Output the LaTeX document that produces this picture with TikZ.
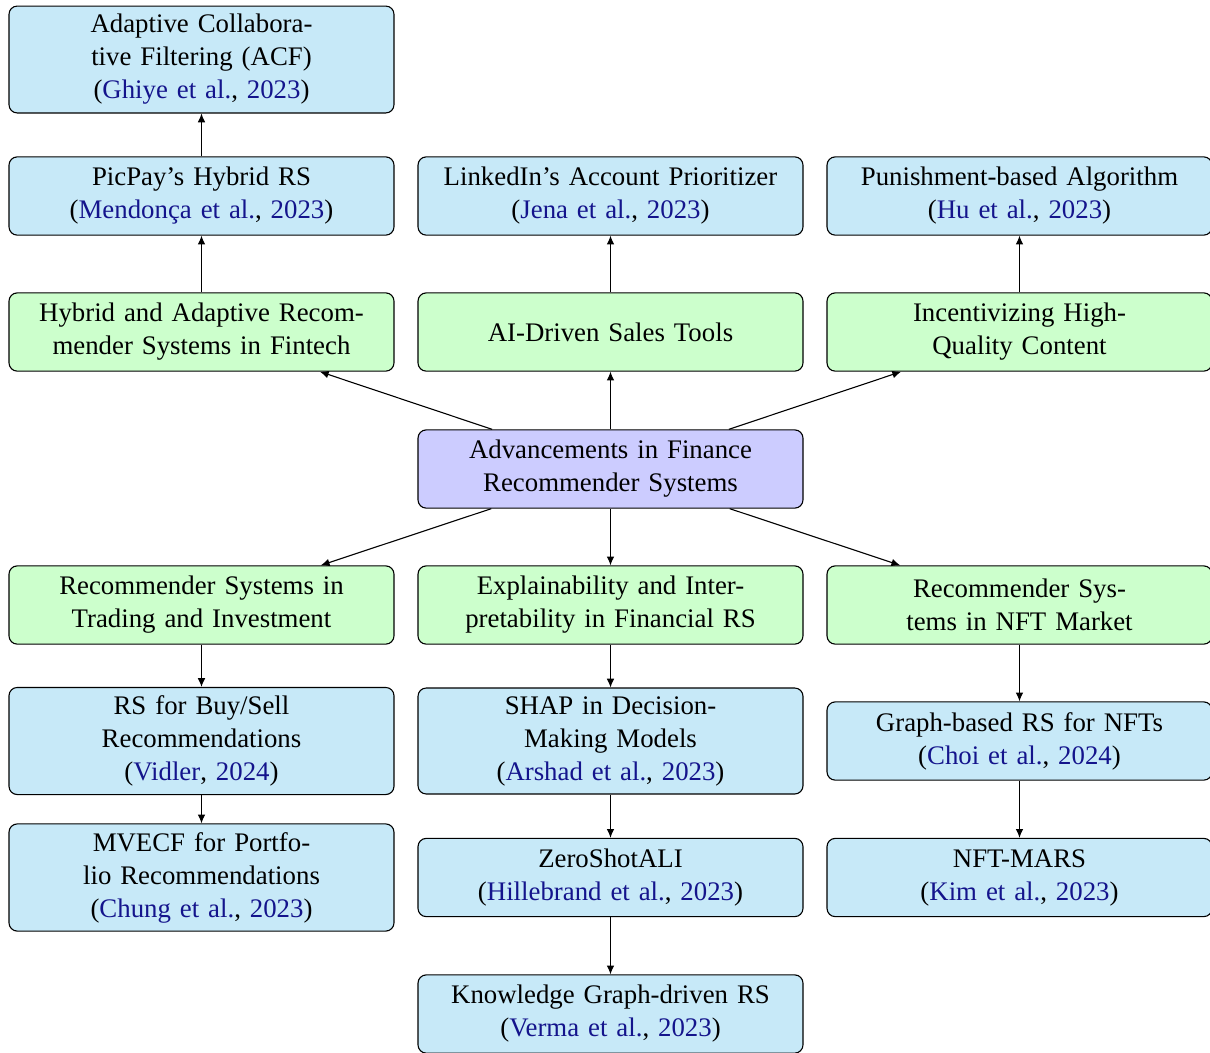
\documentclass[tikz,border=0pt]{standalone}
\usepackage{fontspec}
\setmainfont{Liberation Serif}
\usetikzlibrary{arrows.meta}
\definecolor{leafblue}{RGB}{199,233,248}
\definecolor{branchgreen}{RGB}{204,255,204}
\definecolor{rootviolet}{RGB}{204,204,255}
\definecolor{citeblue}{RGB}{20,20,140}
\newcommand{\refcite}[2]{(\textcolor{citeblue}{#1}, \textcolor{citeblue}{#2})}
\tikzset{
  box/.style={draw=black, rounded corners=3pt, align=center, text width=134pt,
    inner xsep=3pt, inner ysep=3pt, minimum height=1cm, font=\fontsize{9.75}{12}\selectfont},
  leaf/.style={box, fill=leafblue},
  branch/.style={box, fill=branchgreen},
  rootbox/.style={box, fill=rootviolet},
  link/.style={-{Latex[length=3.2pt,width=2.8pt]}, line width=0.4pt}
}
\begin{document}
\begin{tikzpicture}[x=0.36364pt, y=-0.36364pt]
\useasboundingbox (0,0) rectangle (1210,1052);

% root
\node[rootbox] (root) at (610.5,469) {Advancements in Finance\\Recommender Systems};

% upper branches
\node[branch] (hybrid) at (201.5,332) {Hybrid and Adaptive Recom-\\mender Systems in Fintech};
\node[branch] (sales) at (610.5,332) {AI-Driven Sales Tools};
\node[branch] (incent) at (1019.5,332) {Incentivizing High-\\Quality Content};

% upper leaves
\node[leaf] (picpay) at (201.5,196) {PicPay's Hybrid RS\\\refcite{Mendonça et al.}{2023}};
\node[leaf] (acf) at (201.5,59.5) {Adaptive Collabora-\\tive Filtering (ACF)\\\refcite{Ghiye et al.}{2023}};
\node[leaf] (linkedin) at (610.5,196) {LinkedIn's Account Prioritizer\\\refcite{Jena et al.}{2023}};
\node[leaf] (punish) at (1019.5,196) {Punishment-based Algorithm\\\refcite{Hu et al.}{2023}};

% lower branches
\node[branch] (trading) at (201.5,605) {Recommender Systems in\\Trading and Investment};
\node[branch] (explain) at (610.5,605) {Explainability and Inter-\\pretability in Financial RS};
\node[branch] (nft) at (1019.5,605) {Recommender Sys-\\tems in NFT Market};

% lower leaves
\node[leaf] (buysell) at (201.5,741) {RS for Buy/Sell\\Recommendations\\\refcite{Vidler}{2024}};
\node[leaf] (mvecf) at (201.5,877.5) {MVECF for Portfo-\\lio Recommendations\\\refcite{Chung et al.}{2023}};
\node[leaf] (shap) at (610.5,741) {SHAP in Decision-\\Making Models\\\refcite{Arshad et al.}{2023}};
\node[leaf] (zeroshot) at (610.5,877.5) {ZeroShotALI\\\refcite{Hillebrand et al.}{2023}};
\node[leaf] (kg) at (610.5,1014) {Knowledge Graph-driven RS\\\refcite{Verma et al.}{2023}};
\node[leaf] (graphnft) at (1019.5,741) {Graph-based RS for NFTs\\\refcite{Choi et al.}{2024}};
\node[leaf] (nftmars) at (1019.5,877.5) {NFT-MARS\\\refcite{Kim et al.}{2023}};

% connectors
\draw[link] (root) -- (hybrid);
\draw[link] (root) -- (sales);
\draw[link] (root) -- (incent);
\draw[link] (root) -- (trading);
\draw[link] (root) -- (explain);
\draw[link] (root) -- (nft);
\draw[link] (hybrid) -- (picpay);
\draw[link] (picpay) -- (acf);
\draw[link] (sales) -- (linkedin);
\draw[link] (incent) -- (punish);
\draw[link] (trading) -- (buysell);
\draw[link] (buysell) -- (mvecf);
\draw[link] (explain) -- (shap);
\draw[link] (shap) -- (zeroshot);
\draw[link] (zeroshot) -- (kg);
\draw[link] (nft) -- (graphnft);
\draw[link] (graphnft) -- (nftmars);
\end{tikzpicture}
\end{document}
